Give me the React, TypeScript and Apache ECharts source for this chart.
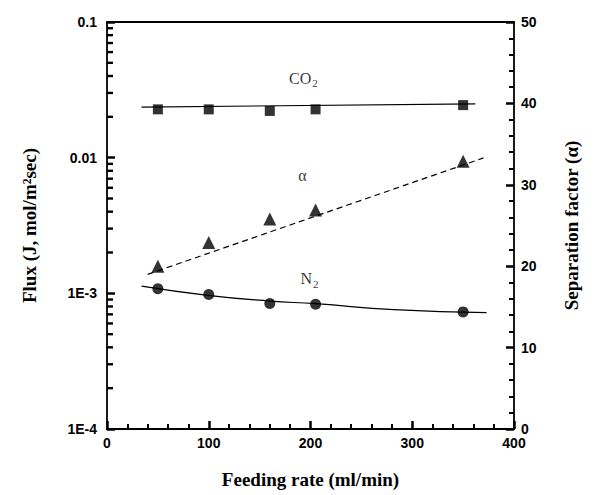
import React, { useEffect, useRef } from "react";
import * as echarts from "echarts";

const feedRate = [50, 100, 160, 205, 350];
const co2Flux = [0.0227, 0.0227, 0.0221, 0.0227, 0.0244];
const n2Flux = [0.00108, 0.00098, 0.00084, 0.00083, 0.00073];
const alphaValues = [20.0, 22.9, 25.8, 26.9, 32.9];

const co2FitX = [34, 362];
const co2FitY = [0.0236, 0.0249];
const n2FitX = [34, 99, 160, 205, 282, 373];
const n2FitY = [0.00113, 0.000966, 0.000877, 0.000839, 0.000758, 0.000721];
const alphaFitX = [40, 370];
const alphaFitY = [19.0, 33.3];

const fluxTickLabels: Record<string, string> = { "-4": "1E-4", "-3": "1E-3", "-2": "0.01", "-1": "0.1" };
const minorMultipliers = [2, 3, 4, 5, 6, 7, 8, 9];
const decades = [1e-4, 1e-3, 1e-2];

const labelPoints = [
  { name: "CO2", x: 193, y: 0.0385, axis: 0 },
  { name: "N2", x: 199, y: 0.00128, axis: 0 },
  { name: "alpha", x: 192, y: 31.2, axis: 1 },
];

const serif = "'Liberation Serif', 'Times New Roman', serif";
const sans = "'Liberation Sans', Arial, sans-serif";
const ink = "rgb(0,0,0)";

export default function App() {
  const ref = useRef<HTMLDivElement>(null);
  useEffect(() => {
    if (!ref.current) return;
    const chart = echarts.init(ref.current, undefined, { renderer: "svg" });
    const zip = (xs: number[], ys: number[]) => xs.map((x, i) => [x, ys[i]]);
    const minorTicks: number[][] = [];
    decades.forEach((d) => minorMultipliers.forEach((m) => minorTicks.push([0, d * m])));

    const labelSeries = (p: typeof labelPoints[number]) => ({
      type: "scatter",
      yAxisIndex: p.axis,
      symbolSize: 0,
      z: 5,
      data: [[p.x, p.y]],
      label: {
        show: true,
        position: "inside",
        formatter: p.name === "CO2" ? "{m|CO}{s|2}" : p.name === "N2" ? "{m|N}{s|2}" : "{m|α}",
        rich: {
          m: { fontFamily: serif, fontSize: 16, color: "#000" },
          s: { fontFamily: serif, fontSize: 11, color: "#000", padding: [10, 0, 0, 1] },
        },
      },
    });

    const axisLine = { show: true, onZero: false, lineStyle: { color: "#000", width: 1.8 } };
    const tickStyle = { show: true, inside: true, length: 8, lineStyle: { color: ink, width: 2.5 } };
    const minorStyle = { show: true, splitNumber: 5, length: 5, lineStyle: { color: ink, width: 2 } };

    chart.setOption({
      animation: false,
      grid: { left: 107, right: 81, top: 22, bottom: 66 },
      xAxis: [
        {
          type: "value",
          min: 0,
          max: 400,
          interval: 100,
          name: "Feeding rate (ml/min)",
          nameLocation: "middle",
          nameGap: 41,
          nameTextStyle: { fontFamily: serif, fontWeight: "bold", fontSize: 19, color: "#000" },
          axisLine,
          axisTick: tickStyle,
          minorTick: minorStyle,
          axisLabel: { fontFamily: sans, fontWeight: "bold", fontSize: 14, color: "#000", margin: 7 },
          splitLine: { show: false },
          minorSplitLine: { show: false },
        },
        {
          type: "value",
          position: "top",
          min: 0,
          max: 400,
          interval: 100,
          axisLine,
          axisTick: { show: false },
          axisLabel: { show: false },
          splitLine: { show: false },
        },
      ],
      yAxis: [
        {
          type: "log",
          logBase: 10,
          min: 1e-4,
          max: 0.1,
          position: "left",
          name: "Flux (J, mol/m²sec)",
          nameLocation: "middle",
          nameGap: 68,
          nameTextStyle: { fontFamily: serif, fontWeight: "bold", fontSize: 19, color: "#000" },
          axisLine,
          axisTick: tickStyle,
          axisLabel: {
            fontFamily: sans,
            fontWeight: "bold",
            fontSize: 14,
            color: "#000",
            margin: 10,
            formatter: (v: number) => fluxTickLabels[String(Math.round(Math.log10(v)))] ?? "",
          },
          splitLine: { show: false },
        },
        {
          type: "value",
          min: 0,
          max: 50,
          interval: 10,
          position: "right",
          name: "Separation factor (α)",
          nameLocation: "middle",
          nameGap: 48,
          nameRotate: 90,
          nameTextStyle: { fontFamily: serif, fontWeight: "bold", fontSize: 19, color: "#000" },
          axisLine,
          axisTick: tickStyle,
          minorTick: minorStyle,
          axisLabel: { fontFamily: sans, fontWeight: "bold", fontSize: 14, color: "#000", margin: 7 },
          splitLine: { show: false },
          minorSplitLine: { show: false },
        },
      ],
      series: [
        {
          type: "custom",
          yAxisIndex: 0,
          data: minorTicks,
          renderItem: (_params: any, api: any) => {
            const p = api.coord([api.value(0), api.value(1)]);
            return { type: "rect", shape: { x: p[0], y: p[1] - 1.2, width: 6, height: 2.4 }, style: { fill: ink } };
          },
        },
        {
          type: "line",
          yAxisIndex: 0,
          data: zip(co2FitX, co2FitY),
          symbol: "none",
          lineStyle: { color: "#000", width: 1.2 },
        },
        {
          type: "line",
          yAxisIndex: 0,
          data: zip(n2FitX, n2FitY),
          smooth: true,
          symbol: "none",
          lineStyle: { color: "#000", width: 1.2 },
        },
        {
          type: "line",
          yAxisIndex: 1,
          data: zip(alphaFitX, alphaFitY),
          symbol: "none",
          lineStyle: { color: "#000", width: 1.2, type: [6, 4] },
        },
        {
          type: "scatter",
          yAxisIndex: 0,
          data: zip(feedRate, co2Flux),
          symbol: "rect",
          symbolSize: 10,
          itemStyle: { color: "#000" },
        },
        {
          type: "scatter",
          yAxisIndex: 0,
          data: zip(feedRate, n2Flux),
          symbol: "circle",
          symbolSize: 11,
          itemStyle: { color: "#000" },
        },
        {
          type: "scatter",
          yAxisIndex: 1,
          data: zip(feedRate, alphaValues),
          symbol: "triangle",
          symbolSize: 13,
          itemStyle: { color: "#000" },
        },
        ...labelPoints.map(labelSeries),
      ],
    });
    return () => chart.dispose();
  }, []);
  return <div ref={ref} style={{ width: 595, height: 495, position: "absolute", left: 0, top: 0 }} />;
}
